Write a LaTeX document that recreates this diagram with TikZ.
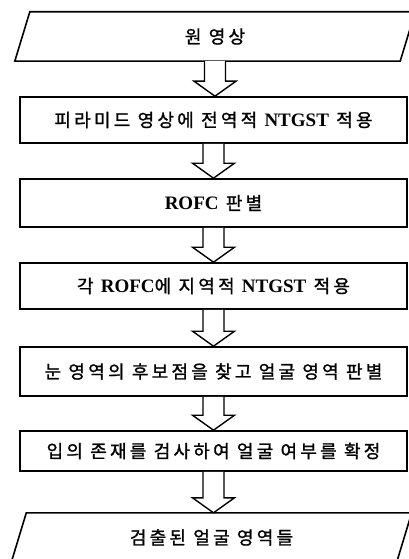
\documentclass[tikz,border=0pt]{standalone}
\usepackage{fontspec}
\newfontfamily\kr[LetterSpace=18,FakeBold=1.2]{Noto Sans CJK KR}
\newfontfamily\lat{Liberation Serif}
\usetikzlibrary{calc}
\tikzset{
  stepbox/.style={draw, line width=1.6pt, minimum width=387pt, inner sep=0pt},
  iobox/.style={minimum width=385pt, minimum height=49pt, inner sep=0pt},
  iodraw/.style={line width=1.6pt, line join=miter},
  blockarrow/.style={draw, line width=1.4pt, fill=white, line join=miter},
  txt/.style={font=\kr\fontsize{18}{20}\selectfont}
}
\newcommand\ltn[1]{{\lat\bfseries\fontsize{19}{20}\selectfont #1}}
\newcommand\paradraw[1]{\draw[iodraw] ($(#1.north west)+(7.5pt,0pt)$) -- ($(#1.north east)+(7.5pt,0pt)$) -- ($(#1.south east)+(-7.5pt,0pt)$) -- ($(#1.south west)+(-7.5pt,0pt)$) -- cycle;}
\newcommand\blkarrow[2]{\draw[blockarrow] let \p1=(#1.south), \p2=(#2.north) in
  (\x1-10.5pt,\y1) -- (\x1-10.5pt,\y2+15pt) -- (\x1-21pt,\y2+15pt) -- (\x1,\y2) -- (\x1+21pt,\y2+15pt) -- (\x1+10.5pt,\y2+15pt) -- (\x1+10.5pt,\y1);}
\begin{document}
\begin{tikzpicture}[x=1pt,y=-1pt]
\useasboundingbox (0,0) rectangle (409,559);
\clip (0,0) rectangle (409,559);
\node[iobox, txt] (in) at (215,36.5) {원 영상};
\paradraw{in}
\node[stepbox, txt, minimum height=46pt] (b1) at (213.5,120) {피라미드 영상에 전역적 \ltn{NTGST} 적용};
\node[stepbox, txt, minimum height=48pt] (b2) at (213.5,203) {\ltn{ROFC} 판별};
\node[stepbox, txt, minimum height=46pt] (b3) at (213.5,286) {각 \ltn{ROFC}에 지역적 \ltn{NTGST} 적용};
\node[stepbox, txt, minimum height=49pt] (b4) at (213.5,371.5) {눈 영역의 후보점을 찾고 얼굴 영역 판별};
\node[stepbox, txt, minimum height=40pt] (b5) at (213.5,451) {입의 존재를 검사하여 얼굴 여부를 확정};
\node[iobox, txt] (out) at (211.5,537.5) {검출된 얼굴 영역들};
\paradraw{out}
\blkarrow{in}{b1}
\blkarrow{b1}{b2}
\blkarrow{b2}{b3}
\blkarrow{b3}{b4}
\blkarrow{b4}{b5}
\blkarrow{b5}{out}
\end{tikzpicture}
\end{document}
